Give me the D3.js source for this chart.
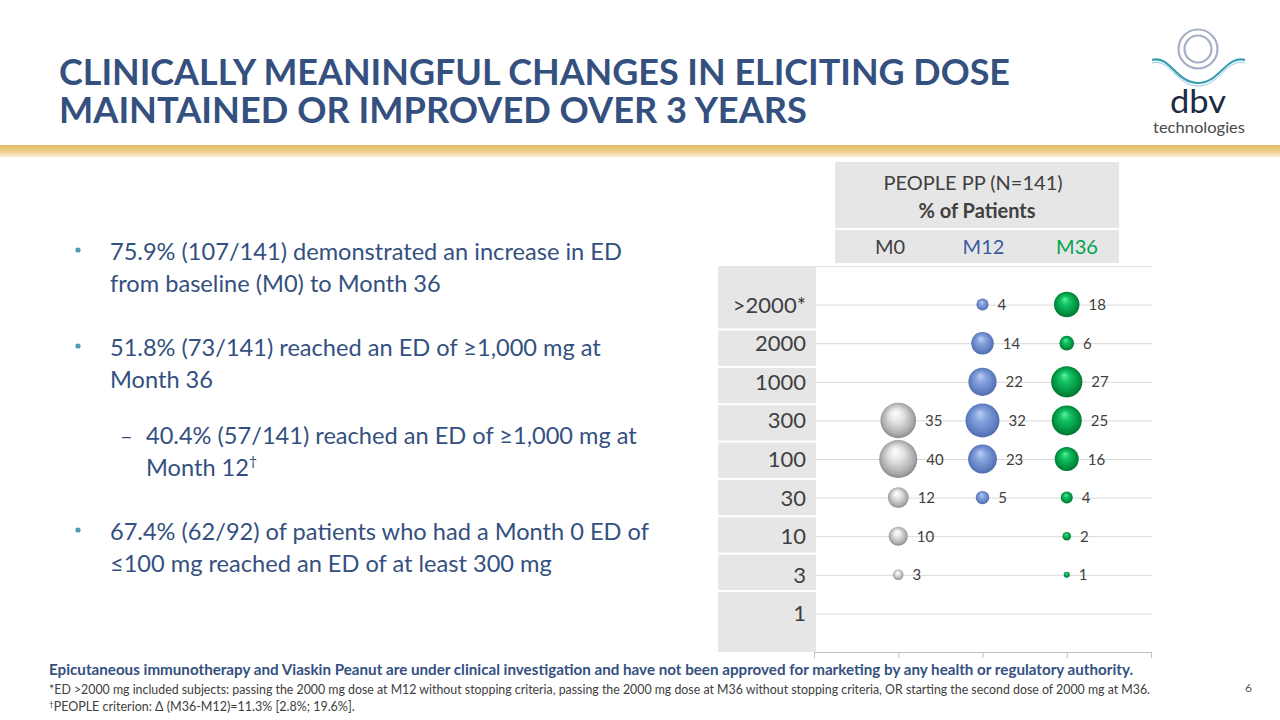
<!DOCTYPE html>
<html>
<head>
<meta charset="utf-8">
<script src="https://cdn.jsdelivr.net/npm/d3@7"></script>
<style>
  html, body { margin: 0; padding: 0; background: #fff; }
  svg { display: block; }
  text { font-family: Lato, "Open Sans", sans-serif; }
</style>
</head>
<body>
<svg id="chart" width="1280" height="720"></svg>
<script>
// ---------------- DATA ----------------
const categories = [">2000*", "2000", "1000", "300", "100", "30", "10", "3", "1"];
const seriesNames = ["M0", "M12", "M36"];
const m0Values  = [null, null, null, 35, 40, 12, 10, 3, null];
const m12Values = [4, 14, 22, 32, 23, 5, null, null, null];
const m36Values = [18, 6, 27, 25, 16, 4, 2, 1, null];
const titleLines = ["CLINICALLY MEANINGFUL CHANGES IN ELICITING DOSE", "MAINTAINED OR IMPROVED OVER 3 YEARS"];
const headerLines = ["PEOPLE PP (N=141)", "% of Patients"];
const bullets = [
  {level: 1, lines: ["75.9% (107/141) demonstrated an increase in ED", "from baseline (M0) to Month 36"]},
  {level: 1, lines: ["51.8% (73/141) reached an ED of \u22651,000 mg at", "Month 36"]},
  {level: 2, lines: ["40.4% (57/141) reached an ED of \u22651,000 mg at", "Month 12\u2020"]},
  {level: 1, lines: ["67.4% (62/92) of patients who had a Month 0 ED of", "\u2264100 mg reached an ED of at least 300 mg"]}
];
const footerBold = "Epicutaneous immunotherapy and Viaskin Peanut are under clinical investigation and have not been approved for marketing by any health or regulatory authority.";
const footnote1 = "*ED >2000 mg included subjects: passing the 2000 mg dose at M12 without stopping criteria, passing the 2000 mg dose at M36 without stopping criteria, OR starting the second dose of 2000 mg at M36.";
const footnote2 = "PEOPLE criterion: \u0394 (M36-M12)=11.3% [2.8%; 19.6%].";

const seriesValues = [m0Values, m12Values, m36Values];

// ---------------- STYLE ----------------
const navy = "#34507f";
const textGrey = "#404040";
const seriesTextColors = ["#404040", "#3b5ba0", "#00a550"];
const gradStops = [
  [["0%", "#ffffff"], ["35%", "#e4e4e4"], ["80%", "#a9a9a9"], ["100%", "#7a7a7a"]],
  [["0%", "#bcd0f2"], ["35%", "#84a2dc"], ["80%", "#5c7cc0"], ["100%", "#46629e"]],
  [["0%", "#62f0a0"], ["30%", "#12c464"], ["80%", "#008a3c"], ["100%", "#006a2e"]]
];

const svg = d3.select("#chart");
const defs = svg.append("defs");

// gold bar gradient
const gold = defs.append("linearGradient").attr("id", "goldbar").attr("x1", 0).attr("y1", 0).attr("x2", 0).attr("y2", 1);
gold.append("stop").attr("offset", "0%").attr("stop-color", "#e2b866");
gold.append("stop").attr("offset", "55%").attr("stop-color", "#efd08e");
gold.append("stop").attr("offset", "100%").attr("stop-color", "#fbf1da");

gradStops.forEach((stops, i) => {
  const g = defs.append("radialGradient").attr("id", "ball" + i)
    .attr("cx", "50%").attr("cy", "50%").attr("r", "55%")
    .attr("fx", "42%").attr("fy", "28%");
  stops.forEach(s => g.append("stop").attr("offset", s[0]).attr("stop-color", s[1]));
});

// ---------------- TITLE ----------------
const titleG = svg.append("g");
titleLines.forEach((t, i) => {
  titleG.append("text")
    .attr("x", 59).attr("y", 85 + i * 38)
    .attr("font-size", 37).attr("font-weight", 700)
    .attr("fill", navy)
    .attr("textLength", i === 0 ? 951 : 748)
    .attr("lengthAdjust", "spacingAndGlyphs")
    .text(t);
});

svg.append("rect").attr("x", 0).attr("y", 145).attr("width", 1280).attr("height", 12).attr("fill", "url(#goldbar)");

// ---------------- LOGO ----------------
const logo = svg.append("g");
logo.append("circle").attr("cx", 1198).attr("cy", 49).attr("r", 19.5).attr("fill", "none").attr("stroke", "#a5b0c2").attr("stroke-width", 2.2);
logo.append("circle").attr("cx", 1198).attr("cy", 49).attr("r", 13.5).attr("fill", "none").attr("stroke", "#a5b0c2").attr("stroke-width", 2.2);
logo.append("path").attr("d", "M1152,60 C1170,55 1176,83 1198,83 C1220,83 1226,55 1245,60")
  .attr("fill", "none").attr("stroke", "#3a9db3").attr("stroke-width", 2.2);
logo.append("path").attr("d", "M1152,63 C1170,58 1176,86 1198,86 C1220,86 1226,58 1245,63")
  .attr("fill", "none").attr("stroke", "#8fd0dc").attr("stroke-width", 1);
logo.append("text").attr("x", 1198).attr("y", 113).attr("text-anchor", "middle")
  .attr("font-size", 33).attr("font-weight", 400).attr("fill", "#1c2a48")
  .attr("textLength", 56).attr("lengthAdjust", "spacingAndGlyphs").text("dbv");
logo.append("text").attr("x", 1199).attr("y", 133).attr("text-anchor", "middle")
  .attr("font-size", 15).attr("font-weight", 400).attr("fill", "#4a4a4a")
  .attr("textLength", 92).attr("lengthAdjust", "spacingAndGlyphs").text("technologies");

// ---------------- BULLETS ----------------
const bulletG = svg.append("g");
const bulletBaselines = [[260, 292], [356, 388], [444, 476], [540, 572]];
bullets.forEach((b, i) => {
  const tx = b.level === 1 ? 110 : 146;
  const [y1] = bulletBaselines[i];
  if (b.level === 1) {
    bulletG.append("circle").attr("cx", 78).attr("cy", y1 - 10).attr("r", 2.6).attr("fill", "#4a9fb5");
  } else {
    bulletG.append("text").attr("x", 120).attr("y", y1).attr("font-size", 22).attr("fill", navy).text("\u2013");
  }
  b.lines.forEach((ln, j) => {
    const t = bulletG.append("text").attr("x", tx).attr("y", bulletBaselines[i][j])
      .attr("font-size", 23.6).attr("fill", navy);
    if (ln.endsWith("\u2020")) {
      t.text(ln.slice(0, -1));
      t.append("tspan").attr("font-size", 14).attr("dy", -10).text("\u2020");
    } else {
      t.text(ln);
    }
  });
});

// ---------------- HEADER TABLE ----------------
const hdr = svg.append("g");
hdr.append("rect").attr("x", 835).attr("y", 162).attr("width", 284).attr("height", 66).attr("fill", "#e7e6e6");
hdr.append("rect").attr("x", 835).attr("y", 230).attr("width", 284).attr("height", 33).attr("fill", "#e7e6e6");
hdr.append("text").attr("x", 973).attr("y", 190).attr("text-anchor", "middle").attr("font-size", 20).attr("fill", textGrey).text(headerLines[0]);
hdr.append("text").attr("x", 977).attr("y", 218).attr("text-anchor", "middle").attr("font-size", 20).attr("font-weight", 700).attr("fill", textGrey).text(headerLines[1]);
const colHead = d3.scalePoint().domain(seriesNames).range([890, 1077]);
seriesNames.forEach((s, i) => {
  hdr.append("text").attr("x", colHead(s)).attr("y", 254).attr("text-anchor", "middle")
    .attr("font-size", 20).attr("fill", seriesTextColors[i]).text(s);
});

// ---------------- CHART ----------------
const plotLeft = 816, plotRight = 1152, plotTop = 266, plotBottom = 652;
const y = d3.scalePoint().domain(categories).range([plotTop, plotBottom]).padding(1);
const x = d3.scaleLinear().domain([0, seriesNames.length + 1]).range([814, 1151]);
const r = d3.scaleSqrt().domain([0, 40]).range([0, 19]);

// y label cells (grey table column)
const rowEdge = d3.scaleLinear().domain([1, categories.length - 1]).range([329.5, 591]);
const cells = svg.append("g");
categories.forEach((c, i) => {
  const top = i === 0 ? plotTop : rowEdge(i) + 1;
  const bot = i === categories.length - 1 ? plotBottom : rowEdge(i + 1) - 1;
  cells.append("rect").attr("x", 718).attr("y", top).attr("width", 98).attr("height", bot - top).attr("fill", "#e7e6e6");
  cells.append("text").attr("x", 806).attr("y", y(c) + 8).attr("text-anchor", "end")
    .attr("font-size", 22).attr("fill", textGrey).text(c);
});

// plot top border
svg.append("line").attr("x1", plotLeft).attr("x2", plotRight).attr("y1", plotTop + 0.5).attr("y2", plotTop + 0.5)
  .attr("stroke", "#e3e3e3").attr("stroke-width", 1);

// gridlines
const grid = svg.append("g").attr("transform", `translate(${plotLeft},0)`)
  .call(d3.axisLeft(y).tickSize(-(plotRight - plotLeft)).tickFormat(""));
grid.select(".domain").remove();
grid.selectAll(".tick line").attr("stroke", "#d9d9d9").attr("stroke-width", 1);

// x axis
const xAxis = svg.append("g").attr("transform", `translate(0,${plotBottom})`)
  .call(d3.axisBottom(x).tickValues(d3.range(0, seriesNames.length + 2)).tickFormat("").tickSize(6).tickSizeOuter(0));
xAxis.select(".domain").attr("stroke", "#bfbfbf");
xAxis.selectAll(".tick line").attr("stroke", "#bfbfbf");

// bubbles
const bubbleG = svg.append("g");
seriesValues.forEach((vals, si) => {
  const pts = categories.map((c, ci) => ({c, v: vals[ci]})).filter(d => d.v != null);
  const g = bubbleG.append("g");
  g.selectAll("circle").data(pts).join("circle")
    .attr("cx", x(si + 1)).attr("cy", d => y(d.c)).attr("r", d => r(d.v))
    .attr("fill", `url(#ball${si})`);
  g.selectAll("text").data(pts).join("text")
    .attr("x", d => x(si + 1) + r(d.v) + 9).attr("y", d => y(d.c) + 5.5)
    .attr("font-size", 15).attr("fill", textGrey).text(d => d.v);
});

// ---------------- FOOTER ----------------
svg.append("text").attr("x", 49).attr("y", 675).attr("font-size", 14.5).attr("font-weight", 700).attr("fill", navy)
  .attr("textLength", 1084).attr("lengthAdjust", "spacingAndGlyphs").text(footerBold);
svg.append("text").attr("x", 49).attr("y", 694).attr("font-size", 12.5).attr("fill", textGrey)
  .attr("textLength", 1101).attr("lengthAdjust", "spacingAndGlyphs").text(footnote1);
const fn2 = svg.append("text").attr("x", 49).attr("y", 711).attr("font-size", 12.5).attr("fill", textGrey);
fn2.append("tspan").attr("font-size", 8).attr("dy", -4).text("\u2020");
fn2.append("tspan").attr("dy", 4).text(footnote2);
svg.append("text").attr("x", 1252).attr("y", 692).attr("text-anchor", "end").attr("font-size", 12).attr("fill", "#595959").text("6");
</script>
</body>
</html>
